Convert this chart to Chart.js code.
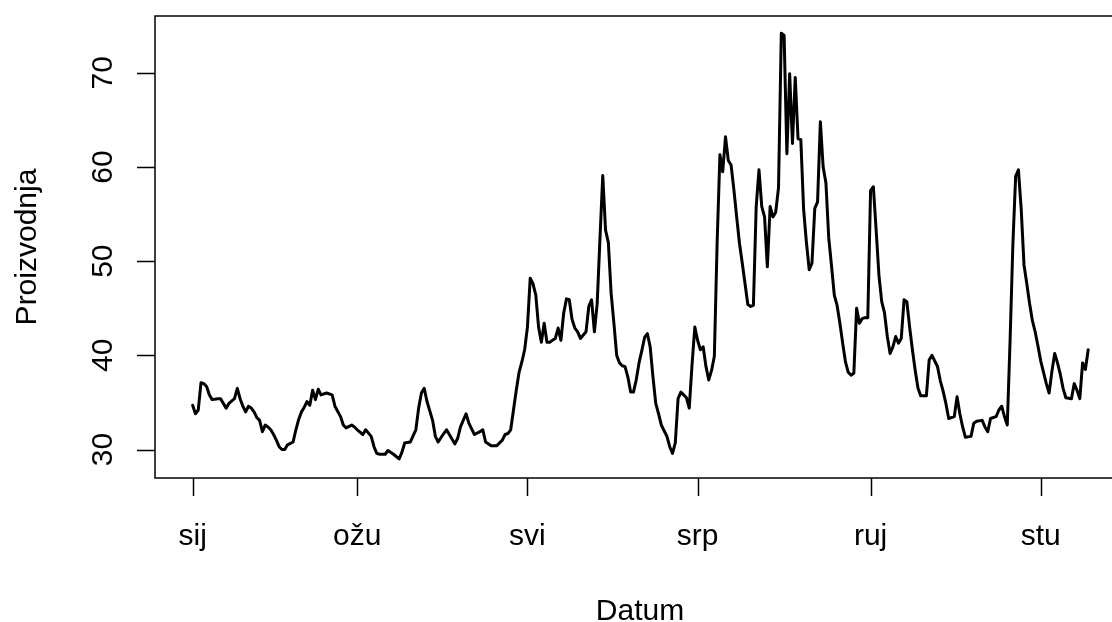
<!DOCTYPE html>
<html lang="hr">
<head>
<meta charset="UTF-8">
<title>Proizvodnja</title>
<script src="https://cdn.jsdelivr.net/npm/chart.js"></script>
<style>
  html, body { margin: 0; padding: 0; background: #fff; overflow: hidden; }
  #wrap { width: 1112px; height: 622px; overflow: hidden; }
</style>
</head>
<body>
<div id="wrap"><canvas id="chart" width="1140" height="622"></canvas></div>
<script>
// day of year (0 = 1. siječnja) and daily production
const days = [
  0,1,2,3,4,5,6,7,9,10,12,13,15,16,17,18,19,20,21,22,23,24,25,26,27,28,29,30,
  31,32,33,34,36,37,38,39,40,41,42,43,44,45,46,48,50,51,53,54,55,57,58,59,61,62,
  64,65,66,67,69,70,72,74,75,76,78,80,81,82,83,84,86,87,88,90,91,92,94,95,96,98,
  99,100,101,103,104,105,107,109,111,112,113,114,115,116,117,118,119,120,121,122,
  123,124,125,126,127,128,129,130,131,132,133,134,135,136,137,138,139,141,142,143,
  144,145,146,147,148,149,150,151,152,153,154,155,156,157,158,159,160,161,162,163,
  164,165,166,167,168,169,170,171,172,173,174,175,176,177,178,179,180,181,182,183,
  184,185,186,187,188,189,190,191,192,193,194,195,196,197,198,199,200,201,202,203,
  204,205,206,207,208,209,210,211,212,213,214,215,216,217,218,219,220,221,222,223,
  224,225,226,227,228,229,230,231,232,233,234,235,236,237,238,239,240,241,242,243,
  244,245,246,247,248,249,250,251,252,253,254,255,256,257,258,259,260,261,263,264,
  265,266,267,268,269,270,271,273,274,275,276,277,279,280,281,283,284,285,286,288,
  289,290,291,292,293,294,295,296,297,298,299,300,301,302,303,304,305,306,307,308,
  309,310,311,312,313,315,316,317,318,319,320,321
];
const production = [
  34.7,33.8,34.2,37.1,37.0,36.7,35.8,35.3,35.4,35.4,34.4,34.9,35.4,36.5,35.4,34.6,34.0,34.6,34.4,34.0,33.4,33.1,31.9,32.6,32.4,32.1,31.6,31.0,
  30.3,30.0,30.0,30.5,30.8,32.1,33.2,34.0,34.5,35.1,34.7,36.3,35.3,36.4,35.8,36.0,35.8,34.6,33.5,32.6,32.3,32.6,32.4,32.1,31.6,32.1,
  31.4,30.3,29.6,29.5,29.5,29.9,29.5,29.0,29.7,30.7,30.8,32.1,34.4,36.0,36.5,35.1,33.1,31.4,30.8,31.7,32.1,31.6,30.6,31.2,32.4,33.8,
  32.8,32.2,31.6,31.9,32.1,30.8,30.4,30.4,31.0,31.6,31.7,32.1,34.2,36.3,38.2,39.3,40.6,43.0,48.2,47.6,
  46.4,43.0,41.4,43.4,41.4,41.4,41.6,41.8,42.9,41.6,44.5,46.0,45.9,43.8,42.9,42.5,41.8,42.5,45.2,45.9,
  42.5,45.5,52.4,59.1,53.3,52.0,46.6,43.4,40.0,39.2,38.9,38.8,37.7,36.1,36.1,37.4,39.2,40.5,41.9,42.3,
  40.9,37.7,34.9,33.8,32.6,32.0,31.4,30.3,29.6,30.7,35.4,36.1,35.8,35.5,34.4,39.0,43.0,41.6,40.6,40.9,
  38.8,37.4,38.4,39.9,52.0,61.3,59.5,63.2,60.7,60.2,57.6,54.7,51.9,49.8,47.6,45.4,45.2,45.3,55.8,59.7,
  55.8,54.7,49.4,55.8,54.7,55.2,57.8,74.2,74.0,61.4,69.9,62.5,69.5,63.0,62.9,55.5,52.0,49.1,49.8,55.6,
  56.3,64.8,60.0,58.3,52.5,49.5,46.4,45.3,43.4,41.3,39.3,38.2,37.9,38.1,45.0,43.4,43.9,44.0,44.0,57.5,
  57.9,53.3,48.5,45.7,44.5,42.0,40.2,40.9,42.0,41.3,41.8,45.9,45.7,43.0,40.6,38.4,36.5,35.7,35.7,39.5,
  40.0,39.4,38.8,37.3,36.2,34.9,33.3,33.5,35.6,33.8,32.4,31.3,31.4,32.8,33.0,33.1,32.4,31.9,33.3,33.5,
  34.2,34.6,33.5,32.6,41.5,51.7,59.0,59.7,55.5,49.6,47.6,45.5,43.7,42.5,41.0,39.4,38.2,37.0,36.0,38.3,
  40.2,39.2,38.0,36.5,35.5,35.4,37.0,36.3,35.4,39.2,38.5,40.6
];

// month ticks (first day of the month) and labels
const monthDays = [0, 59, 120, 181, 243, 304];
const monthLabels = ['sij', 'ožu', 'svi', 'srp', 'ruj', 'stu'];
const yTicks = [30, 40, 50, 60, 70];

const FONT = '30px "Liberation Sans", Arial, sans-serif';

// base-graphics look: box, outward ticks, rotated y labels
const rAxes = {
  id: 'rAxes',
  afterDraw(chart) {
    const ctx = chart.ctx;
    const a = chart.chartArea;
    const xs = chart.scales.x;
    const ys = chart.scales.y;
    ctx.save();
    ctx.strokeStyle = '#000';
    ctx.fillStyle = '#000';
    ctx.lineWidth = 1.5;
    ctx.strokeRect(a.left, a.top, a.right - a.left, a.bottom - a.top);

    ctx.font = FONT;
    ctx.textAlign = 'center';
    ctx.textBaseline = 'alphabetic';

    // x axis
    ctx.beginPath();
    monthDays.forEach(d => {
      const px = Math.round(xs.getPixelForValue(d)) + 0.5;
      ctx.moveTo(px, a.bottom);
      ctx.lineTo(px, a.bottom + 18);
    });
    ctx.stroke();
    monthDays.forEach((d, i) => {
      ctx.fillText(monthLabels[i], xs.getPixelForValue(d), 545);
    });

    // y axis
    ctx.beginPath();
    yTicks.forEach(v => {
      const py = Math.round(ys.getPixelForValue(v)) + 0.5;
      ctx.moveTo(a.left, py);
      ctx.lineTo(a.left - 18, py);
    });
    ctx.stroke();
    yTicks.forEach(v => {
      ctx.save();
      ctx.translate(112, ys.getPixelForValue(v));
      ctx.rotate(-Math.PI / 2);
      ctx.fillText(String(v), 0, 0);
      ctx.restore();
    });

    // axis titles
    ctx.fillText('Datum', (a.left + a.right) / 2, 620);
    ctx.save();
    ctx.translate(36, (a.top + a.bottom) / 2);
    ctx.rotate(-Math.PI / 2);
    ctx.fillText('Proizvodnja', 0, 0);
    ctx.restore();
    ctx.restore();
  }
};

const points = days.map((d, i) => ({ x: d, y: production[i] }));

new Chart(document.getElementById('chart'), {
  type: 'line',
  data: {
    datasets: [{
      data: points,
      borderColor: '#000',
      borderWidth: 3,
      borderJoinStyle: 'round',
      borderCapStyle: 'round',
      pointRadius: 0,
      tension: 0,
      fill: false
    }]
  },
  options: {
    responsive: false,
    animation: false,
    devicePixelRatio: 1,
    layout: { padding: { left: 155, top: 16, right: 15, bottom: 144 } },
    scales: {
      x: { type: 'linear', min: -13.5, max: 334.2, display: false },
      y: { type: 'linear', min: 26.98, max: 76.03, display: false }
    },
    plugins: {
      legend: { display: false },
      tooltip: { enabled: false }
    }
  },
  plugins: [rAxes]
});
</script>
</body>
</html>
